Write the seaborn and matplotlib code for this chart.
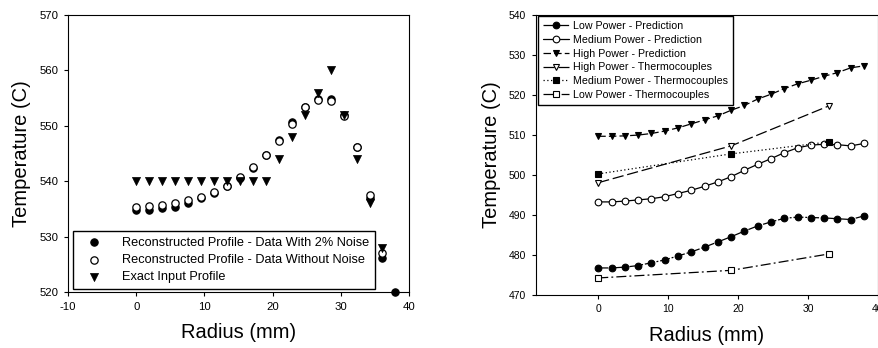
"""Reconstructed temperature profiles (left) and power-level predictions vs thermocouples (right)."""

import matplotlib

matplotlib.use("Agg")

import matplotlib.pyplot as plt
import seaborn as sns

sns.set_theme(style="ticks")
plt.rcParams["font.family"] = ["Liberation Sans", "DejaVu Sans"]
plt.rcParams["axes.unicode_minus"] = False
plt.rcParams["text.color"] = "black"
plt.rcParams["axes.labelcolor"] = "black"

# left panel: reconstructed profiles
radius_left = [0, 1.9, 3.8, 5.7, 7.6, 9.5, 11.4, 13.3, 15.2, 17.1, 19.0,
               20.9, 22.8, 24.7, 26.6, 28.5, 30.4, 32.3, 34.2, 36.1, 38.0]
temp_noise = [534.8, 534.8, 535.1, 535.4, 536.1, 536.9, 537.9, 539.2, 540.6, 542.4, 544.8,
              547.5, 550.6, 553.4, 554.9, 554.8, 551.9, 546.1, 536.9, 526.2, 520.0]
temp_no_noise = [535.4, 535.5, 535.7, 536.1, 536.6, 537.2, 538.1, 539.2, 540.8, 542.6, 544.8,
                 547.3, 550.3, 553.3, 554.7, 554.4, 551.8, 546.2, 537.5, 527.0]
temp_exact = [540, 540, 540, 540, 540, 540, 540, 540, 540, 540, 540,
              544, 548, 552, 556, 560, 552, 544, 536, 528]

# right panel: predictions (21 radii) and thermocouples (3 radii)
radius_pred = [0, 1.9, 3.8, 5.7, 7.6, 9.5, 11.4, 13.3, 15.2, 17.1, 19.0,
               20.9, 22.8, 24.7, 26.6, 28.5, 30.4, 32.3, 34.2, 36.1, 38.0]
low_pred = [476.7, 476.7, 476.9, 477.3, 478.0, 478.7, 479.7, 480.7, 481.9, 483.2, 484.5,
            485.9, 487.2, 488.2, 489.1, 489.4, 489.3, 489.2, 489.0, 488.8, 489.7]
medium_pred = [493.2, 493.2, 493.4, 493.7, 494.0, 494.5, 495.3, 496.1, 497.1, 498.2, 499.5,
               501.1, 502.6, 504.0, 505.5, 506.7, 507.4, 507.6, 507.5, 507.2, 507.8]
high_pred = [509.6, 509.6, 509.7, 509.9, 510.3, 510.9, 511.7, 512.7, 513.7, 514.7, 516.1,
             517.3, 518.9, 520.1, 521.5, 522.7, 523.6, 524.6, 525.5, 526.7, 527.2]
radius_tc = [0, 19, 33]
high_tc = [498.0, 507.2, 517.2]
medium_tc = [500.2, 505.2, 508.2]
low_tc = [474.2, 476.1, 480.2]

fig = plt.figure(figsize=(8.79, 3.48), dpi=100)
ax1 = fig.add_axes([0.0774, 0.161, 0.388, 0.796])
ax2 = fig.add_axes([0.6098, 0.153, 0.389, 0.805])

# ---- left
sns.scatterplot(x=radius_left, y=temp_noise, ax=ax1, marker="o", s=28, color="black",
                edgecolor="black", linewidth=0.8, clip_on=False,
                label="Reconstructed Profile - Data With 2% Noise")
sns.scatterplot(x=radius_left[:20], y=temp_no_noise, ax=ax1, marker="o", s=28, color="white",
                edgecolor="black", linewidth=0.9,
                label="Reconstructed Profile - Data Without Noise")
sns.scatterplot(x=radius_left[:20], y=temp_exact, ax=ax1, marker="v", s=34, color="black",
                edgecolor="black", linewidth=0.5, label="Exact Input Profile")
ax1.set_xlim(-10, 40)
ax1.set_ylim(520, 570)
ax1.set_xticks([-10, 0, 10, 20, 30, 40])
ax1.set_yticks([520, 530, 540, 550, 560, 570])
ax1.legend(loc="lower left", bbox_to_anchor=(0.014, 0.01), fontsize=9.2, frameon=True,
           fancybox=False, edgecolor="black", framealpha=1, borderpad=0.45,
           labelspacing=0.42, handletextpad=1.0, handlelength=2.4, borderaxespad=0)

# ---- right
line_kw = dict(color="black", linewidth=0.9, markersize=4.8, markeredgecolor="black",
               markeredgewidth=0.8, errorbar=None)
sns.lineplot(x=radius_pred, y=low_pred, ax=ax2, marker="o", markerfacecolor="black",
             linestyle=(0, (8, 1.5, 1.5, 1.5)), label="Low Power - Prediction", **line_kw)
sns.lineplot(x=radius_pred, y=medium_pred, ax=ax2, marker="o", markerfacecolor="white",
             linestyle="-", label="Medium Power - Prediction", **line_kw)
sns.lineplot(x=radius_pred, y=high_pred, ax=ax2, marker="v", markerfacecolor="black",
             linestyle=(0, (6, 2.5)), label="High Power - Prediction", **line_kw)
sns.lineplot(x=radius_tc, y=high_tc, ax=ax2, marker="v", markerfacecolor="white",
             linestyle=(0, (9, 3)), label="High Power - Thermocouples", **line_kw)
sns.lineplot(x=radius_tc, y=medium_tc, ax=ax2, marker="s", markerfacecolor="black",
             linestyle=(0, (1, 2)), label="Medium Power - Thermocouples", **line_kw)
sns.lineplot(x=radius_tc, y=low_tc, ax=ax2, marker="s", markerfacecolor="white",
             linestyle=(0, (8, 2.5, 1.5, 2.5)), label="Low Power - Thermocouples", **line_kw)
ax2.set_xlim(-8.9, 40)
ax2.set_ylim(470, 540)
ax2.set_xticks([0, 10, 20, 30, 40])
ax2.set_yticks([470, 480, 490, 500, 510, 520, 530, 540])
ax2.legend(loc="upper left", bbox_to_anchor=(0.006, 0.995), fontsize=7.7, frameon=True,
           fancybox=False, edgecolor="black", framealpha=1, borderpad=0.45,
           labelspacing=0.36, handletextpad=0.45, handlelength=2.4, borderaxespad=0)

for ax, tsize in ((ax1, 8.2), (ax2, 7.5)):
    ax.set_xlabel("Radius (mm)", fontsize=14.5, labelpad=8)
    ax.set_ylabel("Temperature (C)", fontsize=14.5, labelpad=6)
    ax.tick_params(direction="out", length=3, width=0.8, labelsize=tsize, pad=4,
                   color="black", labelcolor="black")
    for spine in ax.spines.values():
        spine.set_visible(True)
        spine.set_color("black")
        spine.set_linewidth(0.8)

fig.savefig("out.png", dpi=100)
